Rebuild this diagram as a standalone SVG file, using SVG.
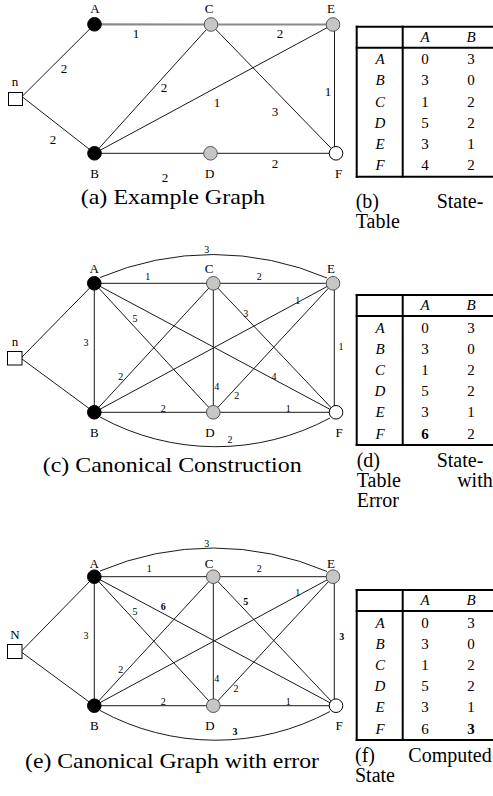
<svg xmlns="http://www.w3.org/2000/svg" width="493" height="796" viewBox="0 0 493 796">
<style>
text{font-family:"Liberation Serif","Times New Roman",serif;fill:#000}
.nl{font-size:13px;text-anchor:middle}
.el{font-size:13px;text-anchor:middle}
.es{font-size:10px;text-anchor:middle}
.b{font-weight:bold}
.cap{font-size:21px}
.tc{font-size:20px}
.tt{font-size:15px;text-anchor:middle}
.it{font-style:italic}
.e{stroke:#1a1a1a;stroke-width:1;fill:none}
.g{stroke:#8a8a8a;stroke-width:2.2;fill:none}
.blk{fill:#000;stroke:#000;stroke-width:1}
.gry{fill:#c6c6c6;stroke:#555;stroke-width:1}
.wht{fill:#fff;stroke:#000;stroke-width:1}
.sq{fill:#fff;stroke:#000;stroke-width:1}
.tl{stroke:#000;stroke-width:2;fill:none}
</style>

<!-- ============ (a) Example Graph ============ -->
<g id="conn-a">
<line class="g" x1="94.5" y1="24.3" x2="211" y2="24.5"/>
<line class="g" x1="211" y1="24.5" x2="333" y2="24.5"/>
<line class="e" x1="22.5" y1="96" x2="94.5" y2="24.3"/>
<line class="e" x1="22.5" y1="97" x2="94.5" y2="153.3"/>
<line class="e" x1="94.5" y1="153.3" x2="211" y2="24.5"/>
<line class="e" x1="94.5" y1="153.3" x2="333" y2="24.5"/>
<line class="e" x1="211" y1="24.5" x2="336" y2="153.3"/>
<line class="e" x1="334.5" y1="24.5" x2="334.5" y2="153.3"/>
<line class="e" x1="94.5" y1="153.3" x2="336" y2="153.3"/>
<text class="el" x="136" y="38">1</text>
<text class="el" x="280" y="38">2</text>
<text class="el" x="64" y="72.5">2</text>
<text class="el" x="164" y="91.5">2</text>
<text class="el" x="217" y="106.5">1</text>
<text class="el" x="275" y="115.5">3</text>
<text class="el" x="328" y="95.5">1</text>
<text class="el" x="53" y="143.5">2</text>
<text class="el" x="165" y="181.5">2</text>
<text class="el" x="275" y="167.5">2</text>
</g>
<g id="a-n"><rect class="sq" x="8.5" y="92.5" width="14" height="13"/><text class="nl" x="15" y="86">n</text></g>
<g id="a-A"><circle class="blk" cx="94.5" cy="24.3" r="6.8"/><text class="nl" x="95" y="13.3">A</text></g>
<g id="a-B"><circle class="blk" cx="94.5" cy="153.3" r="6.8"/><text class="nl" x="94.5" y="177.5">B</text></g>
<g id="a-C"><circle class="gry" cx="211" cy="24.5" r="6.8"/><text class="nl" x="209" y="13.3">C</text></g>
<g id="a-D"><circle class="gry" cx="210.5" cy="153.3" r="6.8"/><text class="nl" x="209.7" y="177.5">D</text></g>
<g id="a-E"><circle class="gry" cx="333" cy="24.5" r="6.8"/><text class="nl" x="331" y="13.3">E</text></g>
<g id="a-F"><circle class="wht" cx="336" cy="153.3" r="6.8"/><text class="nl" x="338.5" y="177.5">F</text></g>
<text class="cap" x="80.7" y="204" textLength="184.3" lengthAdjust="spacingAndGlyphs">(a) Example Graph</text>

<!-- ============ (b) State-Table ============ -->
<g id="table-b">
<line class="tl" x1="355.7" y1="26.7" x2="493" y2="26.7"/>
<line class="tl" x1="355.7" y1="176.7" x2="493" y2="176.7"/>
<line class="tl" x1="356.7" y1="25.7" x2="356.7" y2="177.7"/>
<line class="tl" x1="402.7" y1="25.7" x2="402.7" y2="177.7"/>
<line class="tl" x1="355.7" y1="47.7" x2="493" y2="47.7"/>
<text class="tt it" x="425" y="41.7">A</text><text class="tt it" x="471" y="41.7">B</text>
<text class="tt it" x="380" y="64.2">A</text><text class="tt" x="425" y="64.2">0</text><text class="tt" x="471" y="64.2">3</text>
<text class="tt it" x="380" y="85.4">B</text><text class="tt" x="425" y="85.4">3</text><text class="tt" x="471" y="85.4">0</text>
<text class="tt it" x="380" y="106.6">C</text><text class="tt" x="425" y="106.6">1</text><text class="tt" x="471" y="106.6">2</text>
<text class="tt it" x="380" y="127.8">D</text><text class="tt" x="425" y="127.8">5</text><text class="tt" x="471" y="127.8">2</text>
<text class="tt it" x="380" y="149">E</text><text class="tt" x="425" y="149">3</text><text class="tt" x="471" y="149">1</text>
<text class="tt it" x="380" y="170.2">F</text><text class="tt" x="425" y="170.2">4</text><text class="tt" x="471" y="170.2">2</text>
</g>
<text class="tc" x="355.7" y="208">(b)</text>
<text class="tc" x="483.3" y="208" text-anchor="end">State-</text>
<text class="tc" x="355.7" y="228">Table</text>

<!-- ============ (c) Canonical Construction ============ -->
<g id="conn-c">
<path class="e" d="M100 277.5 A289 289 0 0 1 327 278"/>
<path class="e" d="M100 417 A241 241 0 0 0 330 418"/>
<line class="e" x1="22" y1="357" x2="94.3" y2="283.3"/>
<line class="e" x1="22" y1="359" x2="94.3" y2="412.3"/>
<line class="e" x1="94.3" y1="283.3" x2="333" y2="283.3"/>
<line class="e" x1="94.3" y1="412.3" x2="335.5" y2="412.3"/>
<line class="e" x1="94.3" y1="283.3" x2="94.3" y2="412.3"/>
<line class="e" x1="213.3" y1="283.3" x2="213.3" y2="412.3"/>
<line class="e" x1="334.3" y1="283.3" x2="334.3" y2="412.3"/>
<line class="e" x1="94.3" y1="283.3" x2="213.3" y2="412.3"/>
<line class="e" x1="94.3" y1="283.3" x2="335.5" y2="412.3"/>
<line class="e" x1="94.3" y1="412.3" x2="213.3" y2="283.3"/>
<line class="e" x1="94.3" y1="412.3" x2="333" y2="283.3"/>
<line class="e" x1="213.3" y1="283.3" x2="335.5" y2="412.3"/>
<line class="e" x1="213.3" y1="412.3" x2="333" y2="283.3"/>
<text class="es" x="147.7" y="279.5">1</text>
<text class="es" x="259.3" y="279.5">2</text>
<text class="es" x="206.7" y="252.5">3</text>
<text class="es" x="135" y="321.8">5</text>
<text class="es" x="245.7" y="316.8">3</text>
<text class="es" x="297.7" y="303.5">1</text>
<text class="es" x="86" y="346.2">3</text>
<text class="es" x="120.7" y="379.5">2</text>
<text class="es" x="274" y="379.5">4</text>
<text class="es" x="216.7" y="390.2">4</text>
<text class="es" x="236.7" y="399.2">2</text>
<text class="es" x="163.3" y="411.5">2</text>
<text class="es" x="288.3" y="411.5">1</text>
<text class="es" x="341" y="350">1</text>
<text class="es" x="230" y="442.5">2</text>
</g>
<g id="c-n"><rect class="sq" x="7.5" y="351.5" width="14.5" height="13.5"/><text class="nl" x="15" y="346">n</text></g>
<g id="c-A"><circle class="blk" cx="94.3" cy="283.3" r="6.8"/><text class="nl" x="94.3" y="273.3">A</text></g>
<g id="c-B"><circle class="blk" cx="94.3" cy="412.3" r="6.8"/><text class="nl" x="94.3" y="437">B</text></g>
<g id="c-C"><circle class="gry" cx="213.3" cy="283.3" r="6.8"/><text class="nl" x="209" y="273.3">C</text></g>
<g id="c-D"><circle class="gry" cx="213.3" cy="412.3" r="6.8"/><text class="nl" x="210" y="437">D</text></g>
<g id="c-E"><circle class="gry" cx="333" cy="283.3" r="6.8"/><text class="nl" x="331" y="273.3">E</text></g>
<g id="c-F"><circle class="wht" cx="336" cy="412.3" r="6.8"/><text class="nl" x="339" y="437">F</text></g>
<text class="cap" x="42.7" y="472" textLength="259" lengthAdjust="spacingAndGlyphs">(c) Canonical Construction</text>

<!-- ============ (d) State-Table with Error ============ -->
<g id="table-d">
<line class="tl" x1="355.7" y1="295" x2="493" y2="295"/>
<line class="tl" x1="355.7" y1="445" x2="493" y2="445"/>
<line class="tl" x1="356.7" y1="294" x2="356.7" y2="446"/>
<line class="tl" x1="402.7" y1="294" x2="402.7" y2="446"/>
<line class="tl" x1="355.7" y1="316" x2="493" y2="316"/>
<text class="tt it" x="425" y="310">A</text><text class="tt it" x="471" y="310">B</text>
<text class="tt it" x="380" y="332.5">A</text><text class="tt" x="425" y="332.5">0</text><text class="tt" x="471" y="332.5">3</text>
<text class="tt it" x="380" y="353.7">B</text><text class="tt" x="425" y="353.7">3</text><text class="tt" x="471" y="353.7">0</text>
<text class="tt it" x="380" y="374.9">C</text><text class="tt" x="425" y="374.9">1</text><text class="tt" x="471" y="374.9">2</text>
<text class="tt it" x="380" y="396.1">D</text><text class="tt" x="425" y="396.1">5</text><text class="tt" x="471" y="396.1">2</text>
<text class="tt it" x="380" y="417.3">E</text><text class="tt" x="425" y="417.3">3</text><text class="tt" x="471" y="417.3">1</text>
<text class="tt it" x="380" y="438.5">F</text><text class="tt b" x="425" y="438.5">6</text><text class="tt" x="471" y="438.5">2</text>
</g>
<text class="tc" x="356.7" y="467">(d)</text>
<text class="tc" x="483.3" y="467" text-anchor="end">State-</text>
<text class="tc" x="356.7" y="487">Table</text>
<text class="tc" x="492.7" y="487" text-anchor="end">with</text>
<text class="tc" x="356.7" y="507">Error</text>

<!-- ============ (e) Canonical Graph with error ============ -->
<g id="conn-e">
<path class="e" d="M100 571 A289 289 0 0 1 327 571.5"/>
<path class="e" d="M100 710.5 A241 241 0 0 0 330 711.5"/>
<line class="e" x1="22" y1="650.5" x2="94.3" y2="576.7"/>
<line class="e" x1="22" y1="652.5" x2="94.3" y2="705.7"/>
<line class="e" x1="94.3" y1="576.7" x2="333" y2="576.7"/>
<line class="e" x1="94.3" y1="705.7" x2="335.5" y2="705.7"/>
<line class="e" x1="94.3" y1="576.7" x2="94.3" y2="705.7"/>
<line class="e" x1="213.3" y1="576.7" x2="213.3" y2="705.7"/>
<line class="e" x1="334.3" y1="576.7" x2="334.3" y2="705.7"/>
<line class="e" x1="94.3" y1="576.7" x2="213.3" y2="705.7"/>
<line class="e" x1="94.3" y1="576.7" x2="335.5" y2="705.7"/>
<line class="e" x1="94.3" y1="705.7" x2="213.3" y2="576.7"/>
<line class="e" x1="94.3" y1="705.7" x2="333" y2="576.7"/>
<line class="e" x1="213.3" y1="576.7" x2="335.5" y2="705.7"/>
<line class="e" x1="213.3" y1="705.7" x2="333" y2="576.7"/>
<text class="es" x="149.3" y="572">1</text>
<text class="es" x="259.3" y="572">2</text>
<text class="es" x="206.7" y="546.5">3</text>
<text class="es" x="135" y="614.5">5</text>
<text class="es b" x="163.3" y="610.2">6</text>
<text class="es b" x="245.7" y="605.2">5</text>
<text class="es" x="297.7" y="596.2">1</text>
<text class="es" x="86" y="638.5">3</text>
<text class="es" x="120.7" y="672.5">2</text>
<text class="es" x="216.7" y="681.8">4</text>
<text class="es" x="236" y="691.8">2</text>
<text class="es" x="163.3" y="705">2</text>
<text class="es" x="288.3" y="705">1</text>
<text class="es b" x="341.7" y="640.2">3</text>
<text class="es b" x="235" y="734.5">3</text>
</g>
<g id="e-N"><rect class="sq" x="7.5" y="644.5" width="14.5" height="14"/><text class="nl" x="15" y="638.5">N</text></g>
<g id="e-A"><circle class="blk" cx="94.3" cy="576.7" r="6.8"/><text class="nl" x="94.3" y="567.5">A</text></g>
<g id="e-B"><circle class="blk" cx="94.3" cy="705.7" r="6.8"/><text class="nl" x="94.3" y="729.5">B</text></g>
<g id="e-C"><circle class="gry" cx="213.3" cy="576.7" r="6.8"/><text class="nl" x="209" y="567.5">C</text></g>
<g id="e-D"><circle class="gry" cx="213.3" cy="705.7" r="6.8"/><text class="nl" x="210" y="729.5">D</text></g>
<g id="e-E"><circle class="gry" cx="333" cy="576.7" r="6.8"/><text class="nl" x="331" y="567.5">E</text></g>
<g id="e-F"><circle class="wht" cx="336" cy="705.7" r="6.8"/><text class="nl" x="339" y="729.5">F</text></g>
<text class="cap" x="25" y="768" textLength="294" lengthAdjust="spacingAndGlyphs">(e) Canonical Graph with error</text>

<!-- ============ (f) Computed State ============ -->
<g id="table-f">
<line class="tl" x1="355.7" y1="590" x2="493" y2="590"/>
<line class="tl" x1="355.7" y1="740" x2="493" y2="740"/>
<line class="tl" x1="356.7" y1="589" x2="356.7" y2="741"/>
<line class="tl" x1="402.7" y1="589" x2="402.7" y2="741"/>
<line class="tl" x1="355.7" y1="611" x2="493" y2="611"/>
<text class="tt it" x="425" y="605">A</text><text class="tt it" x="471" y="605">B</text>
<text class="tt it" x="380" y="627.5">A</text><text class="tt" x="425" y="627.5">0</text><text class="tt" x="471" y="627.5">3</text>
<text class="tt it" x="380" y="648.7">B</text><text class="tt" x="425" y="648.7">3</text><text class="tt" x="471" y="648.7">0</text>
<text class="tt it" x="380" y="669.9">C</text><text class="tt" x="425" y="669.9">1</text><text class="tt" x="471" y="669.9">2</text>
<text class="tt it" x="380" y="691.1">D</text><text class="tt" x="425" y="691.1">5</text><text class="tt" x="471" y="691.1">2</text>
<text class="tt it" x="380" y="712.3">E</text><text class="tt" x="425" y="712.3">3</text><text class="tt" x="471" y="712.3">1</text>
<text class="tt it" x="380" y="733.5">F</text><text class="tt" x="425" y="733.5">6</text><text class="tt b" x="471" y="733.5">3</text>
</g>
<text class="tc" x="355" y="762">(f)</text>
<text class="tc" x="491.7" y="762" text-anchor="end">Computed</text>
<text class="tc" x="355" y="782">State</text>
</svg>
